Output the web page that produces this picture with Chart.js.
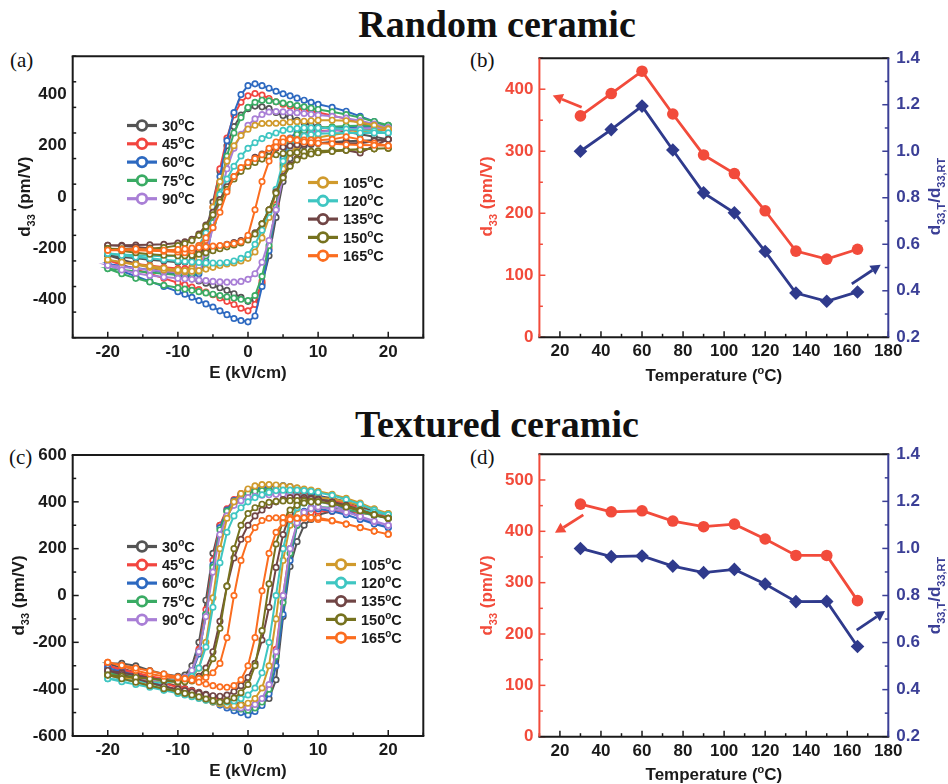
<!DOCTYPE html>
<html>
<head>
<meta charset="utf-8">
<script src="https://cdn.jsdelivr.net/npm/chart.js@4.4.1/dist/chart.umd.min.js"></script>
<style>
  body { margin: 0; background: #fff; }
  #page { position: relative; width: 948px; height: 784px; overflow: hidden; background: #fff; }
  canvas { position: absolute; }
  .head { position: absolute; left: 197px; width: 600px; text-align: center; font: bold 38px/38px 'Liberation Serif', 'Times New Roman', serif; color: #111; }
  .tag { position: absolute; font: 21px/26px 'Liberation Serif', 'Times New Roman', serif; color: #111; }
</style>
</head>
<body>
<div id="page">
  <div class="head" style="top:5px">Random ceramic</div>
  <div class="head" style="top:405px">Textured ceramic</div>
  <div class="tag" style="left:10px;top:47px">(a)</div>
  <div class="tag" style="left:470px;top:47px">(b)</div>
  <div class="tag" style="left:9px;top:444px">(c)</div>
  <div class="tag" style="left:470px;top:444px">(d)</div>
  <canvas id="cA" width="470" height="360" style="left:0;top:40px"></canvas>
  <canvas id="cB" width="478" height="360" style="left:470px;top:40px"></canvas>
  <canvas id="cC" width="470" height="384" style="left:0;top:400px"></canvas>
  <canvas id="cD" width="478" height="384" style="left:470px;top:400px"></canvas>
</div>
<script>
// ---- data ----
const TEMPS = [30, 45, 60, 75, 90, 105, 120, 135, 150, 165];

// field grid for each half of a loop (kV/cm)
const E_UP = [20, 18, 16, 14, 12, 10, 9, 8, 7, 6, 5, 4, 3, 2, 1, 0, -1, -2, -3, -4, -5, -6, -7, -8, -9, -10, -12, -14, -16, -18, -20];
const E_DN = [-20, -18, -16, -14, -12, -10, -9, -8, -7, -6, -5, -4, -3, -2, -1, 0, 1, 2, 3, 4, 5, 6, 7, 8, 9, 10, 12, 14, 16, 18, 20];

// random ceramic, d33 (pm/V) on E_UP / E_DN, one row per temperature
const RANDOM_UP = [
  [225, 235, 245, 255, 265, 275, 280, 290, 300, 310, 318, 330, 345, 352, 355, 345, 320, 275, 200, 100, -20, -140, -220, -250, -255, -255, -250, -245, -240, -235, -228],
  [262, 275, 290, 305, 318, 330, 335, 340, 348, 355, 362, 372, 385, 398, 404, 395, 370, 320, 230, 110, -40, -170, -250, -275, -280, -280, -275, -268, -262, -255, -248],
  [275, 295, 315, 335, 350, 362, 370, 378, 386, 395, 403, 413, 425, 435, 442, 435, 400, 330, 220, 80, -100, -250, -300, -310, -310, -305, -295, -285, -278, -270, -262],
  [280, 295, 310, 322, 333, 342, 347, 352, 357, 362, 367, 372, 376, 378, 370, 350, 310, 250, 160, 40, -100, -230, -290, -300, -303, -305, -300, -295, -290, -285, -280],
  [270, 285, 298, 308, 315, 320, 323, 326, 329, 331, 333, 334, 332, 322, 305, 280, 245, 190, 110, 0, -120, -220, -270, -290, -295, -295, -290, -285, -280, -273, -267],
  [265, 280, 292, 298, 300, 300, 298, 296, 294, 292, 290, 288, 288, 287, 280, 265, 240, 200, 140, 60, -40, -150, -240, -280, -292, -290, -285, -275, -265, -255, -245],
  [250, 258, 262, 265, 268, 270, 270, 270, 268, 265, 260, 250, 240, 228, 212, 190, 160, 120, 70, 10, -60, -140, -190, -215, -225, -230, -232, -230, -228, -225, -221],
  [225, 218, 210, 210, 212, 210, 208, 206, 204, 200, 195, 190, 180, 168, 155, 135, 110, 80, 40, -10, -60, -110, -145, -165, -175, -180, -185, -187, -188, -189, -189],
  [190, 188, 186, 184, 182, 180, 178, 176, 174, 172, 170, 165, 158, 148, 135, 120, 100, 70, 30, -20, -70, -115, -150, -170, -182, -190, -198, -202, -204, -203, -202],
  [200, 210, 225, 235, 225, 222, 222, 222, 224, 228, 230, 215, 190, 165, 150, 135, 115, 80, 20, -60, -120, -160, -190, -210, -218, -215, -212, -210, -208, -208, -208]
];
const RANDOM_DN = [
  [-228, -245, -260, -275, -290, -305, -312, -320, -328, -337, -345, -355, -365, -378, -392, -408, -400, -340, -230, -80, 60, 150, 185, 200, 205, 210, 215, 218, 220, 222, 225],
  [-248, -265, -283, -300, -318, -335, -343, -352, -362, -372, -382, -395, -408, -420, -435, -445, -420, -330, -200, -30, 130, 210, 240, 250, 255, 258, 260, 262, 262, 262, 262],
  [-262, -290, -310, -330, -350, -370, -380, -392, -405, -418, -430, -445, -460, -475, -483, -488, -465, -350, -210, -50, 150, 230, 255, 262, 266, 268, 270, 272, 273, 274, 275],
  [-280, -300, -318, -332, -345, -355, -360, -365, -370, -375, -380, -385, -390, -395, -400, -405, -385, -310, -190, -40, 120, 210, 245, 260, 266, 270, 274, 277, 278, 279, 280],
  [-267, -285, -298, -307, -313, -318, -320, -322, -325, -327, -330, -332, -333, -333, -330, -322, -300, -255, -170, -50, 80, 180, 220, 238, 248, 254, 260, 264, 267, 268, 270],
  [-245, -255, -263, -270, -278, -285, -288, -290, -288, -282, -275, -268, -262, -258, -250, -240, -215, -160, -80, 20, 110, 170, 200, 215, 225, 232, 242, 250, 256, 261, 265],
  [-221, -228, -235, -240, -245, -250, -252, -254, -256, -258, -258, -258, -256, -250, -240, -225, -185, -130, -60, 30, 140, 200, 225, 238, 244, 247, 249, 250, 250, 250, 250],
  [-189, -192, -196, -200, -205, -210, -212, -213, -212, -208, -200, -192, -185, -178, -170, -160, -140, -105, -50, 20, 80, 125, 150, 163, 170, 175, 180, 182, 172, 200, 225],
  [-202, -210, -218, -224, -228, -230, -230, -228, -224, -218, -210, -202, -195, -188, -180, -168, -145, -105, -50, 15, 75, 120, 145, 160, 168, 173, 178, 182, 185, 188, 190],
  [-208, -205, -203, -205, -208, -206, -203, -200, -198, -195, -192, -190, -186, -182, -175, -150, -50, 60, 140, 195, 215, 225, 222, 215, 212, 210, 208, 205, 203, 202, 200]
];

// textured ceramic
const TEXTURED_UP = [
  [340, 360, 380, 400, 415, 425, 428, 432, 436, 440, 445, 448, 450, 452, 450, 445, 430, 400, 360, 300, 180, -20, -200, -300, -340, -345, -335, -320, -300, -290, -290],
  [335, 352, 372, 392, 408, 420, 425, 430, 435, 440, 445, 448, 452, 455, 455, 448, 435, 410, 370, 300, 150, -60, -230, -320, -350, -360, -355, -345, -330, -315, -300],
  [290, 310, 335, 365, 400, 430, 440, 450, 458, 465, 470, 470, 465, 460, 455, 445, 430, 405, 365, 290, 130, -80, -250, -330, -360, -370, -365, -355, -340, -325, -310],
  [330, 345, 365, 385, 400, 412, 418, 424, 430, 436, 442, 446, 448, 448, 445, 438, 425, 400, 360, 280, 120, -80, -240, -320, -350, -360, -360, -355, -345, -335, -330],
  [300, 315, 335, 360, 385, 405, 412, 420, 425, 430, 432, 432, 430, 428, 424, 418, 405, 385, 340, 260, 100, -90, -240, -320, -350, -362, -365, -360, -355, -348, -340],
  [350, 370, 395, 415, 432, 445, 450, 455, 460, 465, 468, 472, 474, 474, 468, 455, 435, 400, 330, 200, -10, -200, -310, -350, -365, -370, -372, -368, -360, -350, -340],
  [345, 365, 390, 410, 428, 440, 445, 448, 450, 450, 450, 448, 440, 430, 418, 400, 375, 340, 270, 140, -50, -220, -310, -345, -358, -365, -372, -370, -365, -360, -355],
  [330, 345, 365, 385, 400, 412, 416, 418, 420, 418, 410, 400, 385, 365, 340, 300, 240, 160, 40, -110, -240, -310, -345, -360, -365, -368, -362, -352, -340, -330, -320],
  [330, 345, 365, 380, 392, 400, 402, 404, 405, 405, 404, 402, 398, 390, 375, 350, 300, 200, 40, -140, -270, -330, -355, -365, -368, -368, -362, -355, -350, -345, -340],
  [262, 275, 290, 305, 318, 325, 328, 330, 332, 333, 333, 332, 330, 320, 290, 240, 150, 0, -180, -290, -330, -350, -355, -355, -355, -352, -345, -335, -320, -300, -285]
];
const TEXTURED_DN = [
  [-290, -310, -330, -350, -370, -388, -397, -405, -413, -422, -430, -440, -450, -458, -465, -470, -468, -460, -440, -360, -90, 124, 230, 300, 325, 345, 360, 360, 355, 348, 340],
  [-300, -320, -340, -358, -375, -392, -400, -408, -417, -426, -435, -445, -455, -465, -475, -485, -475, -450, -390, -230, 0, 200, 300, 340, 355, 360, 360, 358, 352, 345, 335],
  [-310, -330, -350, -368, -385, -405, -415, -425, -435, -445, -455, -468, -480, -492, -500, -510, -495, -470, -420, -300, -80, 150, 300, 360, 375, 370, 360, 345, 325, 305, 290],
  [-330, -345, -360, -375, -390, -405, -413, -421, -430, -440, -450, -460, -470, -478, -485, -490, -480, -455, -400, -260, -30, 180, 300, 350, 370, 378, 375, 368, 355, 342, 330],
  [-340, -355, -370, -385, -400, -413, -420, -428, -436, -445, -453, -462, -470, -476, -480, -478, -465, -440, -380, -240, 0, 200, 310, 355, 372, 378, 370, 355, 338, 318, 300],
  [-340, -355, -370, -385, -400, -415, -423, -430, -438, -446, -455, -462, -468, -470, -468, -460, -440, -395, -300, -100, 150, 300, 370, 400, 412, 418, 412, 400, 385, 368, 350],
  [-355, -368, -380, -392, -405, -418, -425, -432, -440, -447, -453, -456, -455, -450, -440, -425, -395, -330, -200, 0, 200, 320, 375, 395, 402, 400, 392, 380, 368, 355, 345],
  [-320, -338, -355, -372, -388, -400, -406, -412, -418, -424, -428, -430, -425, -410, -385, -350, -290, -190, -50, 120, 260, 350, 395, 410, 412, 410, 398, 380, 362, 345, 330],
  [-340, -355, -370, -385, -398, -410, -418, -425, -433, -442, -450, -455, -450, -438, -415, -380, -300, -150, 50, 220, 320, 365, 385, 395, 400, 400, 392, 378, 362, 345, 330],
  [-285, -298, -310, -322, -335, -348, -355, -362, -370, -378, -385, -390, -392, -385, -360, -300, -180, 20, 180, 270, 310, 325, 330, 332, 333, 332, 320, 305, 290, 275, 262]
];

// d33 and normalised d33 vs temperature
const D33_RANDOM = [357, 393, 429, 360, 294, 264, 204, 139, 126, 142];
const RATIO_RANDOM = [1.0, 1.093, 1.194, 1.005, 0.821, 0.735, 0.569, 0.39, 0.355, 0.395];
const D33_TEXTURED = [453, 438, 440, 420, 409, 414, 385, 353, 353, 265];
const RATIO_TEXTURED = [1.0, 0.965, 0.968, 0.925, 0.897, 0.911, 0.849, 0.774, 0.775, 0.583];

// tick labels
const E_TICKS = [-20, -10, 0, 10, 20];
const D_TICKS_A = [-400, -200, 0, 200, 400];
const D_TICKS_C = [-600, -400, -200, 0, 200, 400, 600];
const T_TICKS = [20, 40, 60, 80, 100, 120, 140, 160, 180];
const D_TICKS_B = [0, 100, 200, 300, 400];
const D_TICKS_D = [0, 100, 200, 300, 400, 500];
const R_TICKS = [0.2, 0.4, 0.6, 0.8, 1.0, 1.2, 1.4];

// indicator arrows [x, y] in data units: tail -> head
const ARROWS_B = [
  { from: [30.6, 371], to: [16.5, 390], axis: 'y' },
  { from: [162.2, 0.43], to: [176.3, 0.512], axis: 'y2' }
];
const ARROWS_D = [
  { from: [31.4, 432], to: [17.6, 397], axis: 'y' },
  { from: [164.6, 0.653], to: [178.4, 0.734], axis: 'y2' }
];

// ---- styling ----
const FONT = "'Liberation Sans', Arial, Helvetica, sans-serif";
const LOOP_COLORS = ['#545454', '#f2453f', '#2d69c0', '#3aab64', '#a97fd6', '#d09a2c', '#3fc6c2', '#704545', '#76721f', '#fb6d1f'];
const RED = '#f24b3b';
const NAVY = '#2f3a8c';
const NAVY_AXIS = '#3b3f96';
const INK = '#1a1a1a';

Chart.defaults.font.family = FONT;
Chart.defaults.animation = false;

function rich(ctx, parts, x, y, size, color, rot, align) {
  ctx.save();
  ctx.translate(x, y);
  ctx.rotate(rot || 0);
  ctx.fillStyle = color;
  ctx.textBaseline = 'alphabetic';
  ctx.textAlign = 'left';
  const fontFor = m => `bold ${m ? Math.round(size * 0.66) : size}px ${FONT}`;
  let w = 0;
  parts.forEach(([t, m]) => { ctx.font = fontFor(m); w += ctx.measureText(t).width; });
  let cx = align === 'left' ? 0 : -w / 2;
  parts.forEach(([t, m]) => {
    ctx.font = fontFor(m);
    const dy = m === 'sub' ? size * 0.3 : m === 'sup' ? -size * 0.4 : 0;
    ctx.fillText(t, cx, size * 0.36 + dy);
    cx += ctx.measureText(t).width;
  });
  ctx.restore();
}

// frame, inward ticks, axis titles, legend and arrows
const decor = {
  id: 'decor',
  afterDraw(chart, args, o) {
    const ctx = chart.ctx, a = chart.chartArea;
    ctx.save();
    (o.ticks || []).forEach(t => {
      const sc = chart.scales[t.axis];
      ctx.strokeStyle = t.color;
      ctx.lineWidth = 1.5;
      const n = Math.round((t.to - t.from) / t.minor);
      for (let i = 0; i <= n; i++) {
        const v = t.from + i * t.minor;
        const major = Math.abs(v / t.major - Math.round(v / t.major)) < 1e-6;
        const len = major ? 6 : 3.5;
        const p = sc.getPixelForValue(v);
        ctx.beginPath();
        if (t.side === 'bottom') { ctx.moveTo(p, a.bottom); ctx.lineTo(p, a.bottom - len); }
        if (t.side === 'left') { ctx.moveTo(a.left, p); ctx.lineTo(a.left + len, p); }
        if (t.side === 'right') { ctx.moveTo(a.right, p); ctx.lineTo(a.right - len, p); }
        ctx.stroke();
      }
    });
    const f = o.frame;
    ctx.lineWidth = 2;
    const side = (c, x1, y1, x2, y2) => { ctx.strokeStyle = c; ctx.beginPath(); ctx.moveTo(x1, y1); ctx.lineTo(x2, y2); ctx.stroke(); };
    side(f.top, a.left - 1, a.top, a.right + 1, a.top);
    side(f.bottom, a.left - 1, a.bottom, a.right + 1, a.bottom);
    side(f.left, a.left, a.top, a.left, a.bottom);
    side(f.right, a.right, a.top, a.right, a.bottom);

    (o.arrows || []).forEach(ar => {
      const xs = chart.scales.x, ys = chart.scales[ar.axis];
      const x1 = xs.getPixelForValue(ar.from[0]), y1 = ys.getPixelForValue(ar.from[1]);
      const x2 = xs.getPixelForValue(ar.to[0]), y2 = ys.getPixelForValue(ar.to[1]);
      const ang = Math.atan2(y2 - y1, x2 - x1), hl = 10, hw = 5.5;
      const bx = x2 - hl * Math.cos(ang), by = y2 - hl * Math.sin(ang);
      ctx.strokeStyle = ar.color; ctx.fillStyle = ar.color; ctx.lineWidth = 2.8;
      ctx.beginPath(); ctx.moveTo(x1, y1); ctx.lineTo(bx, by); ctx.stroke();
      ctx.beginPath();
      ctx.moveTo(x2, y2);
      ctx.lineTo(bx + hw * Math.sin(ang), by - hw * Math.cos(ang));
      ctx.lineTo(bx - hw * Math.sin(ang), by + hw * Math.cos(ang));
      ctx.closePath(); ctx.fill();
    });

    (o.legend || []).forEach(l => {
      ctx.strokeStyle = l.color; ctx.lineWidth = 3.2;
      ctx.beginPath(); ctx.moveTo(l.x - 15, l.y); ctx.lineTo(l.x + 15, l.y); ctx.stroke();
      ctx.beginPath(); ctx.arc(l.x, l.y, 4.8, 0, Math.PI * 2);
      ctx.fillStyle = '#fff'; ctx.fill(); ctx.lineWidth = 2.8; ctx.stroke();
      rich(ctx, [[String(l.t), ''], ['o', 'sup'], ['C', '']], l.x + 20, l.y, 14.5, INK, 0, 'left');
    });

    (o.titles || []).forEach(t => rich(ctx, t.parts, t.x, t.y, 17, t.color, t.rot));
    ctx.restore();
  }
};

const tickFont = { family: FONT, size: 17, weight: 'bold' };
const setTicks = list => s => { s.ticks = list.map(v => ({ value: v })); };

function axisX(min, max, ticks, height, color) {
  return {
    type: 'linear', min, max,
    grid: { display: false, drawTicks: false }, border: { display: false },
    ticks: { font: tickFont, color, padding: 4, maxRotation: 0, autoSkip: false },
    afterBuildTicks: setTicks(ticks),
    afterFit: s => { s.height = height; }
  };
}
function axisY(min, max, ticks, width, color, pos, pad, fmt) {
  return {
    type: 'linear', position: pos, min, max,
    grid: { display: false, drawTicks: false }, border: { display: false },
    ticks: { font: tickFont, color, padding: pad, autoSkip: false, callback: fmt || (v => String(v)) },
    afterBuildTicks: setTicks(ticks),
    afterFit: s => { s.width = width; }
  };
}

const Y_TITLE = [['d', ''], ['33', 'sub'], [' (pm/V)', '']];
const R_TITLE = [['d', ''], ['33,T', 'sub'], ['/d', ''], ['33,RT', 'sub']];
const T_TITLE = [['Temperature (', ''], ['o', 'sup'], ['C)', '']];

function loopChart(id, ups, dns, yMin, yMax, yTicks, geo) {
  const datasets = TEMPS.map((t, i) => ({
    label: t + ' C',
    data: E_UP.map((e, k) => ({ x: e, y: ups[i][k] })).concat(E_DN.map((e, k) => ({ x: e, y: dns[i][k] }))),
    showLine: true,
    borderColor: LOOP_COLORS[i],
    borderWidth: 2,
    pointRadius: 2.7,
    pointBorderWidth: 1.7,
    pointBackgroundColor: '#fff',
    pointBorderColor: LOOP_COLORS[i],
    tension: 0,
    order: -i
  }));
  const legend = TEMPS.map((t, i) => i < 5
    ? { x: 142, y: geo.legL[0] + i * geo.legL[1], color: LOOP_COLORS[i], t }
    : { x: geo.legR[2], y: geo.legR[0] + (i - 5) * geo.legR[1], color: LOOP_COLORS[i], t });
  new Chart(document.getElementById(id), {
    type: 'scatter',
    data: { datasets },
    plugins: [decor],
    options: {
      responsive: false, events: [],
      layout: { padding: { left: 0, top: geo.top, right: 46.7, bottom: 0 } },
      plugins: {
        legend: { display: false }, tooltip: { enabled: false },
        decor: {
          frame: { top: INK, bottom: INK, left: INK, right: INK },
          ticks: [
            { axis: 'x', side: 'bottom', from: -25, to: 25, major: 10, minor: 5, color: INK },
            { axis: 'y', side: 'left', from: yMin, to: yMax, major: 200, minor: 100, color: INK }
          ],
          legend,
          titles: [
            { parts: [['E (kV/cm)', '']], x: 248, y: geo.xTitle, color: INK, rot: 0 },
            { parts: Y_TITLE, x: geo.yTitleX, y: geo.yMid, color: INK, rot: -Math.PI / 2 }
          ]
        }
      },
      scales: {
        x: axisX(-25, 25, E_TICKS, geo.xh, INK),
        y: axisY(yMin, yMax, yTicks, 72.7, INK, 'left', 6)
      }
    }
  });
}

function tempChart(id, d33, ratio, dMax, dTicks, arrows, geo) {
  new Chart(document.getElementById(id), {
    type: 'scatter',
    data: {
      datasets: [
        {
          data: TEMPS.map((t, i) => ({ x: t, y: d33[i] })), yAxisID: 'y',
          showLine: true, borderColor: RED, borderWidth: 2.8,
          pointStyle: 'circle', pointRadius: 5.8, pointBackgroundColor: RED, pointBorderColor: RED, pointBorderWidth: 0
        },
        {
          data: TEMPS.map((t, i) => ({ x: t, y: ratio[i] })), yAxisID: 'y2',
          showLine: true, borderColor: NAVY, borderWidth: 2.8,
          pointStyle: 'rectRot', pointRadius: 6.8, pointBackgroundColor: NAVY, pointBorderColor: NAVY, pointBorderWidth: 0
        }
      ]
    },
    plugins: [decor],
    options: {
      responsive: false, events: [],
      layout: { padding: { left: 0, top: geo.top, right: 0, bottom: 0 } },
      plugins: {
        legend: { display: false }, tooltip: { enabled: false },
        decor: {
          frame: { top: INK, bottom: INK, left: RED, right: NAVY_AXIS },
          ticks: [
            { axis: 'x', side: 'bottom', from: 10, to: 180, major: 20, minor: 10, color: INK },
            { axis: 'y', side: 'left', from: 0, to: dMax, major: 100, minor: 50, color: RED },
            { axis: 'y2', side: 'right', from: 0.2, to: 1.4, major: 0.2, minor: 0.1, color: NAVY_AXIS }
          ],
          arrows: arrows.map((a, i) => Object.assign({ color: i ? NAVY : RED }, a)),
          titles: [
            { parts: T_TITLE, x: 243.9, y: geo.xTitle, color: INK, rot: 0 },
            { parts: Y_TITLE, x: 16, y: geo.yMid, color: RED, rot: -Math.PI / 2 },
            { parts: R_TITLE, x: 464, y: geo.yMid, color: NAVY_AXIS, rot: -Math.PI / 2 }
          ]
        }
      },
      scales: {
        x: axisX(10, 180, T_TICKS, geo.xh, INK),
        y: axisY(0, dMax, dTicks, 69.4, RED, 'left', 6),
        y2: axisY(0.2, 1.4, R_TICKS, 59.7, NAVY_AXIS, 'right', 8, v => v.toFixed(1))
      }
    }
  });
}

loopChart('cA', RANDOM_UP, RANDOM_DN, -550, 550, D_TICKS_A,
  { top: 15.7, xh: 62.3, xTitle: 331.5, yTitleX: 24, yMid: 156.7, legL: [85.5, 18.3], legR: [142.5, 18.3, 323] });
loopChart('cC', TEXTURED_UP, TEXTURED_DN, -600, 600, D_TICKS_C,
  { top: 55, xh: 48, xTitle: 370, yTitleX: 18, yMid: 195.5, legL: [146.5, 18.3], legR: [164.5, 18.3, 341] });
tempChart('cB', D33_RANDOM, RATIO_RANDOM, 450, D_TICKS_B, ARROWS_B,
  { top: 15.7, xh: 62.7, xTitle: 335, yMid: 156.5 });
tempChart('cD', D33_TEXTURED, RATIO_TEXTURED, 550, D_TICKS_D, ARROWS_D,
  { top: 54.3, xh: 47.3, xTitle: 373.5, yMid: 195.5 });
</script>
</body>
</html>
